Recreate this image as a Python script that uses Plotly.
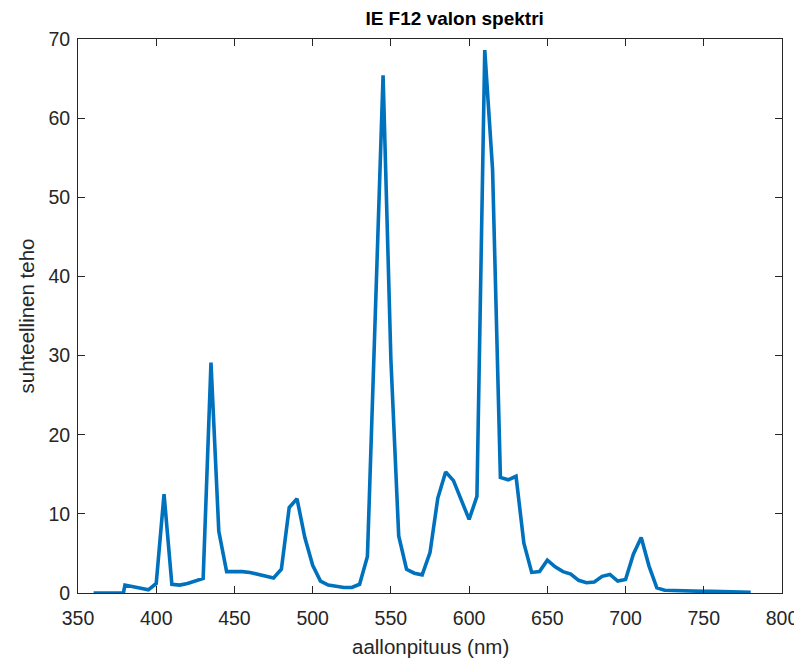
import plotly.graph_objects as go

wavelength = [360, 365, 370, 375, 379,
              380, 385, 390, 395, 400, 405, 410, 415, 420, 425, 430, 435, 440, 445,
              450, 455, 460, 465, 470, 475, 480, 485, 490, 495, 500, 505, 510, 515,
              520, 525, 530, 535, 540, 545, 550, 555, 560, 565, 570, 575, 580, 585,
              590, 595, 600, 605, 610, 615, 620, 625, 630, 635, 640, 645, 650, 655,
              660, 665, 670, 675, 680, 685, 690, 695, 700, 705, 710, 715, 720, 725,
              730, 735, 740, 745, 750, 755, 760, 765, 770, 775, 780]
power = [0, 0, 0, 0, 0,
         1.0, 0.8, 0.6, 0.4, 1.2, 12.5, 1.1, 1.0, 1.2, 1.5, 1.85, 29.1, 7.8, 2.7,
         2.75, 2.7, 2.6, 2.4, 2.2, 1.9, 3.0, 10.8, 11.9, 7.0, 3.5, 1.5, 1.0, 0.8,
         0.7, 0.7, 1.1, 4.6, 35.0, 65.4, 29.5, 7.2, 3.0, 2.5, 2.3, 5.1, 12.0, 15.3,
         14.2, 11.8, 9.3, 12.2, 68.6, 53.5, 14.6, 14.3, 14.75, 6.3, 2.6, 2.7, 4.15, 3.3,
         2.7, 2.4, 1.6, 1.3, 1.4, 2.1, 2.35, 1.5, 1.7, 4.9, 7.0, 3.4, 0.65, 0.35,
         0.3, 0.25, 0.3, 0.25, 0.2, 0.2, 0.2, 0.2, 0.15, 0.1, 0.1]

x_ticks = [350, 400, 450, 500, 550, 600, 650, 700, 750, 800]
y_ticks = [0, 10, 20, 30, 40, 50, 60, 70]

FONT = "Liberation Sans, Arial, Helvetica"

fig = go.Figure()
fig.add_trace(go.Scatter(x=wavelength, y=power, mode="lines",
                         line=dict(color="#0072BD", width=3.6), showlegend=False))

axis_common = dict(showline=True, linecolor="#262626", linewidth=1, mirror="ticks",
                   ticks="inside", ticklen=7, tickcolor="#262626", showgrid=False,
                   zeroline=False, automargin=False,
                   tickfont=dict(family=FONT, size=19.5, color="#262626"))

# page body has an 8px margin, so the figure is sized and placed to compensate
fig.update_layout(
    width=794, height=653,
    paper_bgcolor="white", plot_bgcolor="white",
    margin=dict(l=70, r=20, t=31, b=67.5, autoexpand=False),
    title=dict(text="<b>IE F12 valon spektri</b>", x=0.535, xanchor="center", y=0.9847,
               yanchor="middle", xref="paper", automargin=False,
               font=dict(family=FONT, size=19, color="black")),
    xaxis=dict(range=[350, 800], tickvals=x_ticks, ticktext=[str(v) for v in x_ticks],
               ticklabelstandoff=8, **axis_common),
    yaxis=dict(range=[0, 70], tickvals=y_ticks, ticktext=[str(v) for v in y_ticks],
               ticklabelstandoff=3,
               title=dict(text="suhteellinen teho", standoff=8,
                          font=dict(family=FONT, size=20.5, color="#262626")),
               **axis_common),
    annotations=[dict(text="aallonpituus (nm)", xref="paper", yref="paper",
                      x=0.5, y=-0.0965, xanchor="center", yanchor="middle",
                      showarrow=False,
                      font=dict(family=FONT, size=20.5, color="#262626"))],
)

fig.write_html("out.html")
